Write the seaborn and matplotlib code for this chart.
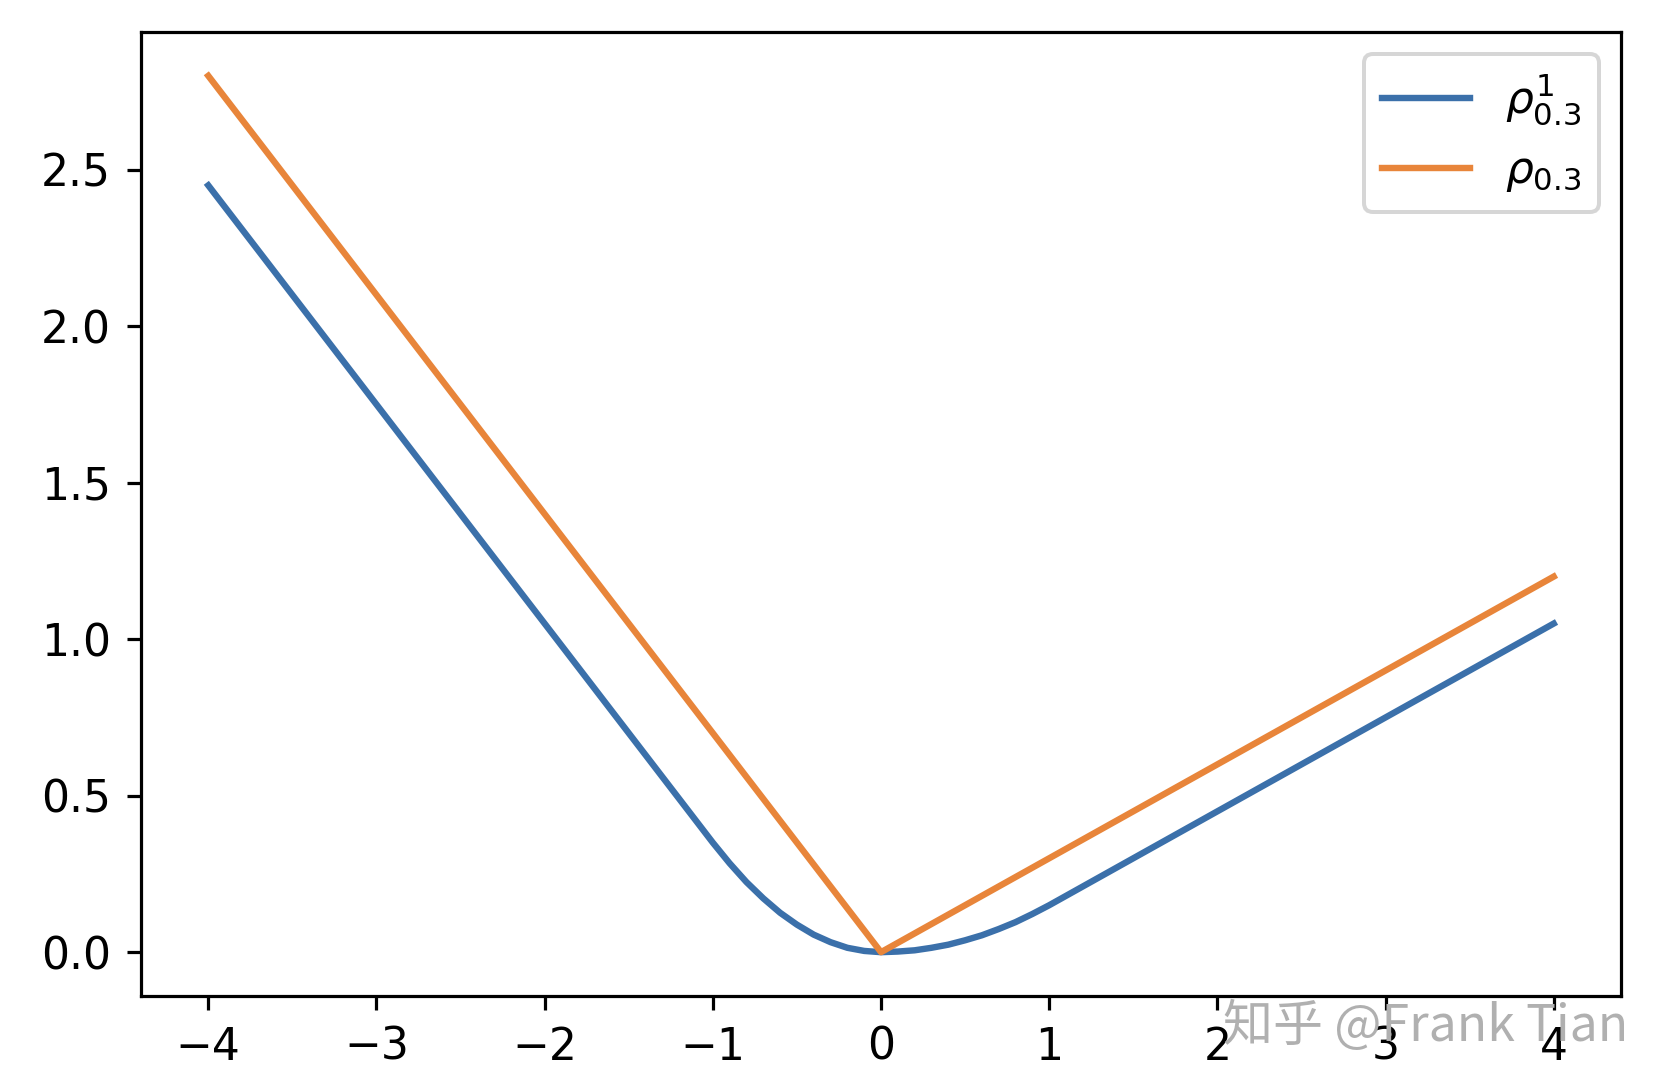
import numpy as np
import pandas as pd
import matplotlib
matplotlib.use("Agg")
import matplotlib.pyplot as plt
import seaborn as sns

# Data
huber_x = [-4.0, -1.0, -0.9, -0.8, -0.7, -0.6, -0.5, -0.4, -0.3, -0.2, -0.1, 0.0,
           0.1, 0.2, 0.3, 0.4, 0.5, 0.6, 0.7, 0.8, 0.9, 1.0, 4.0]
huber_y = [2.45, 0.35, 0.284, 0.224, 0.172, 0.126, 0.088, 0.056, 0.032, 0.014, 0.004, 0.0,
           0.002, 0.006, 0.014, 0.024, 0.038, 0.054, 0.074, 0.096, 0.122, 0.15, 1.05]
quant_x = [-4.0, 0.0, 4.0]
quant_y = [2.8, 0.0, 1.2]

label_huber = r'$\rho^1_{0.3}$'
label_quant = r'$\rho_{0.3}$'

blue = '#3b70aa'
orange = '#e8853a'

dpi = 288
fig = plt.figure(figsize=(1670 / dpi, 1090 / dpi), dpi=dpi)
ax = fig.add_axes([141 / 1670, 1 - 996 / 1090, (1621 - 141) / 1670, (996 - 32) / 1090])

df_h = pd.DataFrame({'x': huber_x, 'y': huber_y})
df_q = pd.DataFrame({'x': quant_x, 'y': quant_y})

sns.lineplot(data=df_h, x='x', y='y', ax=ax, color=blue, linewidth=1.6,
             label=label_huber, sort=False)
sns.lineplot(data=df_q, x='x', y='y', ax=ax, color=orange, linewidth=1.6,
             label=label_quant, sort=False)

ax.set_xlabel('')
ax.set_ylabel('')
ax.set_xlim(-4.4, 4.4)
ax.set_ylim(-0.14, 2.94)
ax.set_xticks([-4, -3, -2, -1, 0, 1, 2, 3, 4])
ax.set_yticks([0.0, 0.5, 1.0, 1.5, 2.0, 2.5])
ax.tick_params(labelsize=11, pad=4)
ax.legend(loc='upper right', fontsize=11)

fig.text(1628 / 1670, 1 - 1027 / 1090, '知乎 @Frank Tian', ha='right', va='center',
         color='#b0b0b0', fontsize=12.5,
         family=['Noto Sans CJK SC', 'DejaVu Sans'])

fig.savefig('out.png', dpi=dpi)
